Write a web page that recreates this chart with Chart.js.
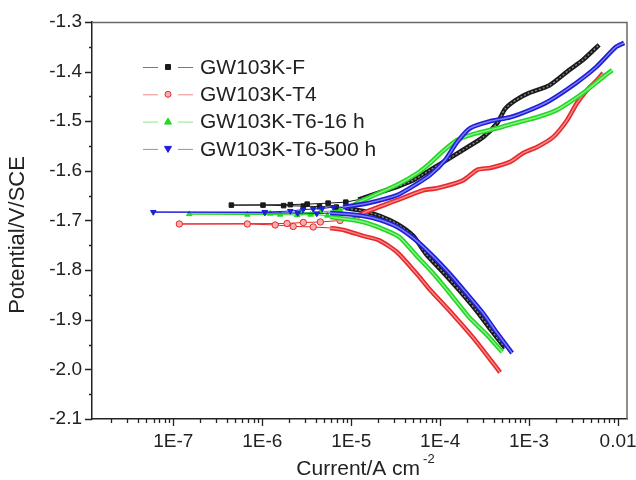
<!DOCTYPE html>
<html><head><meta charset="utf-8">
<script src="https://cdn.jsdelivr.net/npm/chart.js@4.4.1/dist/chart.umd.min.js"></script>
<style>html,body{margin:0;padding:0;background:#fff}canvas{display:block}</style>
</head><body>
<canvas id="c" width="636" height="480"></canvas>
<script>
// ---------- data (current in A cm^-2, potential in V vs SCE) ----------
const seriesNames = ["GW103K-F", "GW103K-T4", "GW103K-T6-16 h", "GW103K-T6-500 h"];
const xTickValues = [1e-7, 1e-6, 1e-5, 1e-4, 1e-3, 1e-2];
const xTickLabels = ["1E-7", "1E-6", "1E-5", "1E-4", "1E-3", "0.01"];
const yTickValues = [-2.1, -2.0, -1.9, -1.8, -1.7, -1.6, -1.5, -1.4, -1.3];
const yTickLabels = ["-2.1", "-2.0", "-1.9", "-1.8", "-1.7", "-1.6", "-1.5", "-1.4", "-1.3"];

// GW103K-F
const F_cathodic = [[5.37e-4,-1.957],[3.74e-4,-1.921],[2.54e-4,-1.881],[1.63e-4,-1.840],[1.05e-4,-1.802],[6.97e-5,-1.768],[4.98e-5,-1.731],[3.29e-5,-1.707],[2.12e-5,-1.691],[1.36e-5,-1.681],[8.6e-6,-1.675]];
const F_nearEcorr = [[6.8e-6,-1.673],[4.4e-6,-1.672],[2.9e-6,-1.671],[1.74e-6,-1.670],[1.02e-6,-1.669],[4.5e-7,-1.669],[2.07e-6,-1.668],[3.2e-6,-1.667],[5.5e-6,-1.665],[8.7e-6,-1.663]];
const F_anodic = [[1.2e-5,-1.658],[2.12e-5,-1.643],[3.29e-5,-1.632],[4.98e-5,-1.619],[7.73e-5,-1.598],[1.0e-4,-1.586],[1.40e-4,-1.570],[2.0e-4,-1.553],[3.04e-4,-1.532],[4.37e-4,-1.504],[5.37e-4,-1.475],[7.14e-4,-1.457],[1.0e-3,-1.443],[1.68e-3,-1.428],[2.81e-3,-1.397],[4.05e-3,-1.376],[6.12e-3,-1.346]];

// GW103K-T4
const T4_cathodic = [[4.72e-4,-2.006],[2.47e-4,-1.941],[1.26e-4,-1.881],[7.73e-5,-1.840],[5.37e-5,-1.806],[3.29e-5,-1.764],[2.07e-5,-1.740],[1.36e-5,-1.731],[8.6e-6,-1.720],[5.8e-6,-1.715]];
const T4_nearEcorr = [[3.74e-6,-1.713],[2.23e-6,-1.712],[1.40e-6,-1.709],[6.8e-7,-1.707],[1.17e-7,-1.707],[1.9e-6,-1.706],[2.9e-6,-1.704],[4.5e-6,-1.703],[7.5e-6,-1.700]];
const T4_anodic = [[1.17e-5,-1.693],[1.36e-5,-1.685],[3.29e-5,-1.659],[6.44e-5,-1.639],[9.2e-5,-1.635],[1.81e-4,-1.619],[2.61e-4,-1.598],[3.65e-4,-1.594],[6.12e-4,-1.582],[8.6e-4,-1.564],[1.23e-3,-1.552],[1.86e-3,-1.532],[2.67e-3,-1.498],[3.46e-3,-1.463],[4.49e-3,-1.437],[5.81e-3,-1.417],[6.78e-3,-1.403]];

// GW103K-T6-16 h
const T16_cathodic = [[4.98e-4,-1.965],[3.29e-4,-1.929],[2.12e-4,-1.895],[1.33e-4,-1.850],[8.3e-5,-1.806],[5.37e-5,-1.770],[3.46e-5,-1.733],[2.12e-5,-1.715],[1.36e-5,-1.703],[8.6e-6,-1.697],[5.8e-6,-1.693]];
const T16_nearEcorr = [[5.4e-6,-1.690],[3.5e-6,-1.688],[2.47e-6,-1.689],[1.59e-6,-1.688],[6.8e-7,-1.688],[1.51e-7,-1.687],[1.23e-6,-1.686],[2.67e-6,-1.685],[4.5e-6,-1.683],[7.5e-6,-1.679]];
const T16_anodic = [[1.03e-5,-1.670],[1.36e-5,-1.659],[3.29e-5,-1.628],[5.52e-5,-1.605],[7.73e-5,-1.584],[1.08e-4,-1.560],[1.55e-4,-1.538],[2.35e-4,-1.526],[4.37e-4,-1.514],[7.9e-4,-1.501],[1.23e-3,-1.492],[2.07e-3,-1.477],[2.89e-3,-1.461],[4.49e-3,-1.437],[6.78e-3,-1.411],[8.6e-3,-1.397]];

// GW103K-T6-500 h
const T500_cathodic = [[6.44e-4,-1.967],[4.37e-4,-1.927],[3.04e-4,-1.887],[1.96e-4,-1.846],[1.26e-4,-1.806],[8.3e-5,-1.772],[5.37e-5,-1.740],[3.29e-5,-1.713],[2.12e-5,-1.699],[1.36e-5,-1.691],[8.6e-6,-1.687],[5.8e-6,-1.685]];
const T500_nearEcorr = [[4.1e-6,-1.686],[2.5e-6,-1.685],[1.07e-6,-1.684],[5.96e-8,-1.683],[1.07e-6,-1.683],[2.07e-6,-1.681],[2.88e-6,-1.678],[3.74e-6,-1.677],[4.72e-6,-1.676],[6.28e-6,-1.673]];
const T500_anodic = [[8.1e-6,-1.673],[1.36e-5,-1.667],[2.12e-5,-1.659],[3.29e-5,-1.649],[5.37e-5,-1.627],[7.73e-5,-1.608],[1.14e-4,-1.578],[1.55e-4,-1.542],[2.17e-4,-1.514],[3.65e-4,-1.500],[6.12e-4,-1.492],[1.03e-3,-1.477],[1.68e-3,-1.459],[3.37e-3,-1.423],[5.66e-3,-1.391],[9.5e-3,-1.350],[1.17e-2,-1.342]];

// ---------- styling ----------
const FONT = '"Liberation Sans", Arial, Helvetica, sans-serif';
const styles = [
  {color:'#1a1a1a', inner:'#8a8a8a', dash:[2,2], light:'#777777', fill:'#1a1a1a', marker:'rect', rot:0},
  {color:'#e8282b', inner:'#f48c8c', dash:[], light:'#f08a8a', fill:'#f5b0b0', marker:'circle', rot:0},
  {color:'#22d822', inner:'#8cf08c', dash:[], light:'#8ce88c', fill:'#22dc22', marker:'triangle', rot:0},
  {color:'#1e1ed8', inner:'#8080f4', dash:[], light:'#8a8af0', fill:'#2020d8', marker:'triangle', rot:180}
];
const groups = [
  [F_cathodic, F_nearEcorr, F_anodic],
  [T4_cathodic, T4_nearEcorr, T4_anodic],
  [T16_cathodic, T16_nearEcorr, T16_anodic],
  [T500_cathodic, T500_nearEcorr, T500_anodic]
];
const pts = a => a.map(p => ({x:p[0], y:p[1]}));

const datasets = [];
groups.forEach((g, i) => {
  const s = styles[i];
  const ord = 3 - i;
  [g[0], g[2]].forEach(branch => {
    datasets.push({label: seriesNames[i], data: pts(branch), showLine:true, borderColor:s.color, borderWidth:4.6,
      pointRadius:0, tension:0.22, order:ord + 0.5});
    datasets.push({label: seriesNames[i], data: pts(branch), showLine:true, borderColor:s.inner, borderWidth:1.4,
      borderDash:s.dash, pointRadius:0, tension:0.22, order:ord + 0.2});
  });
  const near = [g[0][g[0].length-1]].concat(g[1], [g[2][0]]);
  const n = near.length;
  datasets.push({label: seriesNames[i], data: pts(near), showLine:true, borderColor:s.color, borderWidth:1,
    backgroundColor:s.fill, pointBorderColor:s.color, pointBorderWidth:1,
    pointStyle:s.marker, rotation:s.rot,
    pointRadius: c => (c.dataIndex === 0 || c.dataIndex === n-1) ? 0 : 3.2,
    tension:0, order:ord});
});

function xTicksAll(min, max){
  const out = [];
  for (let e = -9; e <= -1; e++) {
    for (let m = 1; m <= 9; m++) {
      const v = m * Math.pow(10, e);
      if (v >= min * 0.999 && v <= max * 1.001) out.push({value:v});
    }
  }
  return out;
}
function xLabel(v){
  for (let k = 0; k < xTickValues.length; k++) {
    if (Math.abs(v - xTickValues[k]) / xTickValues[k] < 1e-6) return xTickLabels[k];
  }
  return '';
}

const decorPlugin = {
  id:'decor',
  afterDraw(chart){
    const ctx = chart.ctx, ca = chart.chartArea, xs = chart.scales.x, ys = chart.scales.y;
    ctx.save();
    ctx.strokeStyle = '#6a6a6a'; ctx.lineWidth = 1.5;
    ctx.beginPath(); ctx.moveTo(ca.left, ca.top + 0.5); ctx.lineTo(ca.right, ca.top + 0.5); ctx.lineTo(ca.right, ca.bottom); ctx.stroke();
    ctx.strokeStyle = '#222'; ctx.lineWidth = 1.3;
    ctx.beginPath();
    xs.ticks.forEach(t => {
      const p = Math.round(xs.getPixelForValue(t.value)) + 0.5;
      const L = t.label ? 7 : 4;
      ctx.moveTo(p, ca.bottom); ctx.lineTo(p, ca.bottom + L);
    });
    ys.ticks.forEach(t => {
      const p = Math.round(ys.getPixelForValue(t.value)) + 0.5;
      const L = t.label ? 7 : 3;
      ctx.moveTo(ca.left, p); ctx.lineTo(ca.left - L, p);
    });
    ctx.stroke();
    ctx.fillStyle = '#222';
    ctx.font = '22px ' + FONT;
    ctx.textAlign = 'center'; ctx.textBaseline = 'middle';
    ctx.save();
    ctx.translate(18, 235); ctx.rotate(-Math.PI/2);
    ctx.fillText('Potential/V/SCE', 0, 0);
    ctx.restore();
    const main = 'Current/A cm', sup = '-2';
    ctx.font = '21px ' + FONT;
    const w1 = ctx.measureText(main).width;
    ctx.font = '13px ' + FONT;
    const w2 = ctx.measureText(sup).width;
    const cx = (ca.left + ca.right) / 2 + 6;
    const x0 = cx - (w1 + w2 + 3) / 2;
    ctx.textAlign = 'left'; ctx.textBaseline = 'alphabetic';
    ctx.font = '21px ' + FONT;
    ctx.fillText(main, x0, 475);
    ctx.font = '13px ' + FONT;
    ctx.fillText(sup, x0 + w1 + 3, 463);
    ctx.font = '21px ' + FONT;
    ctx.textBaseline = 'middle';
    seriesNames.forEach((name, i) => {
      const s = styles[i];
      const y = ca.top + 45 + i * 27.3;
      const lx = ca.left + 51, mx = ca.left + 76, rx = ca.left + 101;
      ctx.strokeStyle = s.light; ctx.lineWidth = 1;
      ctx.beginPath();
      ctx.moveTo(lx, y + 0.5); ctx.lineTo(mx - 10, y + 0.5);
      ctx.moveTo(mx + 10, y + 0.5); ctx.lineTo(rx, y + 0.5);
      ctx.stroke();
      ctx.fillStyle = s.fill; ctx.strokeStyle = s.color;
      ctx.beginPath();
      if (s.marker === 'rect') { ctx.rect(mx - 2.5, y - 2.5, 5, 5); }
      else if (s.marker === 'circle') { ctx.arc(mx, y, 3, 0, Math.PI * 2); }
      else if (s.rot === 0) { ctx.moveTo(mx, y - 3.5); ctx.lineTo(mx + 3.5, y + 2.5); ctx.lineTo(mx - 3.5, y + 2.5); ctx.closePath(); }
      else { ctx.moveTo(mx, y + 3.5); ctx.lineTo(mx + 3.5, y - 2.5); ctx.lineTo(mx - 3.5, y - 2.5); ctx.closePath(); }
      ctx.fill(); ctx.stroke();
      ctx.fillStyle = '#222';
      ctx.fillText(name, ca.left + 108, y + 1);
    });
    ctx.restore();
  }
};

new Chart(document.getElementById('c'), {
  type:'scatter',
  data:{datasets},
  options:{
    responsive:false, animation:false, devicePixelRatio:1,
    layout:{padding:{top:22, right:9, left:0, bottom:0}},
    plugins:{legend:{display:false}, tooltip:{enabled:false}},
    scales:{
      x:{
        type:'logarithmic', min:1.22e-8, max:0.0126,
        afterBuildTicks: sc => { sc.ticks = xTicksAll(sc.min, sc.max); },
        afterFit: sc => { sc.height = 61; sc.paddingLeft = 0; sc.paddingRight = 0; },
        grid:{display:false, drawTicks:false},
        border:{display:true, color:'#222', width:1.5},
        ticks:{autoSkip:false, maxRotation:0, padding:11, color:'#222',
          font:{family:FONT, size:19},
          callback: v => xLabel(v)}
      },
      y:{
        type:'linear', min:-2.1, max:-1.3,
        afterBuildTicks: sc => {
          const t = [];
          yTickValues.forEach((v, k) => {
            t.push({value:v});
            if (k < yTickValues.length - 1) t.push({value:(v + yTickValues[k+1]) / 2});
          });
          sc.ticks = t;
        },
        afterFit: sc => { sc.width = 92; sc.paddingTop = 0; sc.paddingBottom = 0; },
        grid:{display:false, drawTicks:false},
        border:{display:true, color:'#222', width:1.5},
        ticks:{autoSkip:false, padding:10, color:'#222',
          font:{family:FONT, size:19},
          callback: v => {
            for (let k = 0; k < yTickValues.length; k++) if (Math.abs(v - yTickValues[k]) < 1e-6) return yTickLabels[k];
            return '';
          }}
      }
    }
  },
  plugins:[decorPlugin]
});
</script>
</body></html>
